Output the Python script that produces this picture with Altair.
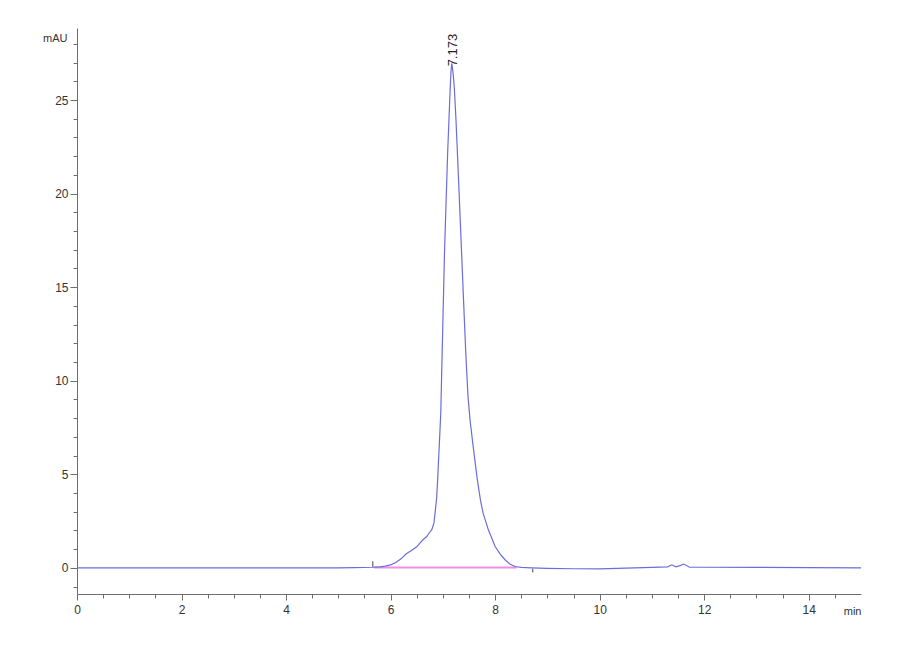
import altair as alt
import pandas as pd

# Chromatogram trace (retention time in min, absorbance in mAU)
times = [0, 1, 2, 3, 4, 4.5, 5.0, 5.3,
         5.66, 5.8, 5.9, 6.0, 6.1, 6.2, 6.3, 6.4, 6.5,
         6.56, 6.62, 6.69, 6.75, 6.79, 6.83, 6.85, 6.88, 6.90,
         6.93, 6.96, 6.98, 7.00, 7.03, 7.06, 7.09, 7.12, 7.14,
         7.155, 7.17, 7.185, 7.20, 7.22, 7.25, 7.28,
         7.32, 7.36, 7.40, 7.44, 7.48, 7.52, 7.58, 7.66,
         7.72, 7.77, 7.87, 8.0, 8.1, 8.19, 8.28, 8.38,
         8.5, 8.7, 9.0, 9.5, 10.0, 10.5, 11.0,
         11.3, 11.38, 11.46, 11.54, 11.61, 11.72,
         12.0, 13.0, 14.0, 15.0]
signal = [0, 0, 0, 0, 0, 0, 0, 0.01,
          0.03, 0.05, 0.09, 0.16, 0.28, 0.48, 0.75, 0.92, 1.12,
          1.32, 1.5, 1.67, 1.9, 2.05, 2.4, 2.92, 3.7, 4.7,
          6.48, 8.26, 10.7, 13.1, 16.72, 19.4, 22.06, 24.2, 25.6,
          26.5, 26.96, 26.7, 26.3, 25.6, 24.0, 22.06,
          19.4, 16.72, 14.0, 11.4, 9.2, 7.9, 6.48, 4.7,
          3.6, 2.92, 2.03, 1.14, 0.72, 0.43, 0.2, 0.07,
          0.02, 0.0, -0.03, -0.05, -0.06, -0.02, 0.02,
          0.05, 0.16, 0.05, 0.12, 0.2, 0.03,
          0.03, 0.02, 0.01, 0.0]

# integration baseline
baseline_t = [5.68, 8.41]
baseline_v = [0.02, 0.02]

# peak start / end markers
marker_t = [5.66, 8.72]
marker_lo = [0.05, -0.05]
marker_hi = [0.35, -0.25]

# peak label
peak_t = [7.173]
peak_v = [26.96]
peak_label = ["7.173"]

x_major = [0, 2, 4, 6, 8, 10, 12, 14]
x_minor = [0.5, 1, 1.5, 2.5, 3, 3.5, 4.5, 5, 5.5, 6.5, 7, 7.5, 8.5, 9, 9.5,
           10.5, 11, 11.5, 12.5, 13, 13.5, 14.5]
y_major = [0, 5, 10, 15, 20, 25]
y_minor = [-1, 1, 2, 3, 4, 6, 7, 8, 9, 11, 12, 13, 14, 16, 17, 18, 19,
           21, 22, 23, 24, 26, 27, 28]

X_DOMAIN = [0, 15]
Y_DOMAIN = [-1.4, 28.85]

FONT = "Liberation Sans"
AXIS_COLOR = "#6e6e6e"
LABEL_COLOR = "#333333"

trace_df = pd.DataFrame({"t": times, "v": signal})
base_df = pd.DataFrame({"t": baseline_t, "v": baseline_v})
mark_df = pd.DataFrame({"t": marker_t, "lo": marker_lo, "hi": marker_hi})
label_df = pd.DataFrame({"t": peak_t, "v": peak_v, "label": peak_label})

xs = alt.Scale(domain=X_DOMAIN, nice=False, zero=False)
ys = alt.Scale(domain=Y_DOMAIN, nice=False, zero=False)

x_axis_major = alt.Axis(orient="bottom", values=x_major, format="d", grid=False,
                        domainColor=AXIS_COLOR, tickColor=AXIS_COLOR, tickSize=6,
                        labelPadding=4, labelFont=FONT, labelFontSize=12,
                        labelColor=LABEL_COLOR, labelFlush=False, title="min",
                        titleFont=FONT, titleFontSize=11, titleFontWeight="normal",
                        titleColor=LABEL_COLOR, titleAlign="right", titleAnchor="end",
                        titleX=784, titleY=17, titleBaseline="middle")
y_axis_major = alt.Axis(orient="left", values=y_major, format="d", grid=False,
                        domainColor=AXIS_COLOR, tickColor=AXIS_COLOR, tickSize=7,
                        labelPadding=2, labelFont=FONT, labelFontSize=12,
                        labelColor=LABEL_COLOR, title="mAU", titleFont=FONT,
                        titleFontSize=11, titleFontWeight="normal",
                        titleColor=LABEL_COLOR, titleAngle=0, titleAlign="right",
                        titleX=-10, titleY=10, titleBaseline="middle")
x_axis_minor = alt.Axis(orient="bottom", values=x_minor, labels=False, domain=False,
                        grid=False, tickColor=AXIS_COLOR, tickSize=4, title=None)
y_axis_minor = alt.Axis(orient="left", values=y_minor, labels=False, domain=False,
                        grid=False, tickColor=AXIS_COLOR, tickSize=4, title=None)

trace = alt.Chart(trace_df).mark_line(color="#6c6cdc", strokeWidth=1.2).encode(
    x=alt.X("t:Q", scale=xs, axis=x_axis_major),
    y=alt.Y("v:Q", scale=ys, axis=y_axis_major),
)

minor = alt.Chart(trace_df).mark_point(opacity=0).encode(
    x=alt.X("t:Q", scale=xs, axis=x_axis_minor),
    y=alt.Y("v:Q", scale=ys, axis=y_axis_minor),
)

baseline = alt.Chart(base_df).mark_line(color="#f08ee8", strokeWidth=2).encode(
    x=alt.X("t:Q", scale=xs, axis=None),
    y=alt.Y("v:Q", scale=ys, axis=None),
)

markers = alt.Chart(mark_df).mark_rule(color="#444444", strokeWidth=1).encode(
    x=alt.X("t:Q", scale=xs, axis=None),
    y=alt.Y("lo:Q", scale=ys, axis=None),
    y2="hi:Q",
)

label = alt.Chart(label_df).mark_text(angle=270, align="left", baseline="middle",
                                      dx=-3, dy=1, font=FONT, fontSize=13,
                                      color="#222222").encode(
    x=alt.X("t:Q", scale=xs, axis=None),
    y=alt.Y("v:Q", scale=ys, axis=None),
    text="label:N",
)

chart = alt.layer(baseline, trace, minor, markers, label).resolve_scale(
    x="independent", y="independent"
).properties(
    width=784, height=566,
    autosize=alt.AutoSizeParams(type="none"),
    padding={"left": 69, "top": 20, "right": 30, "bottom": 40},
    background="white",
).configure_view(stroke=None, strokeWidth=0)

chart.save("out.html", embed_options={"renderer": "svg", "actions": False})
